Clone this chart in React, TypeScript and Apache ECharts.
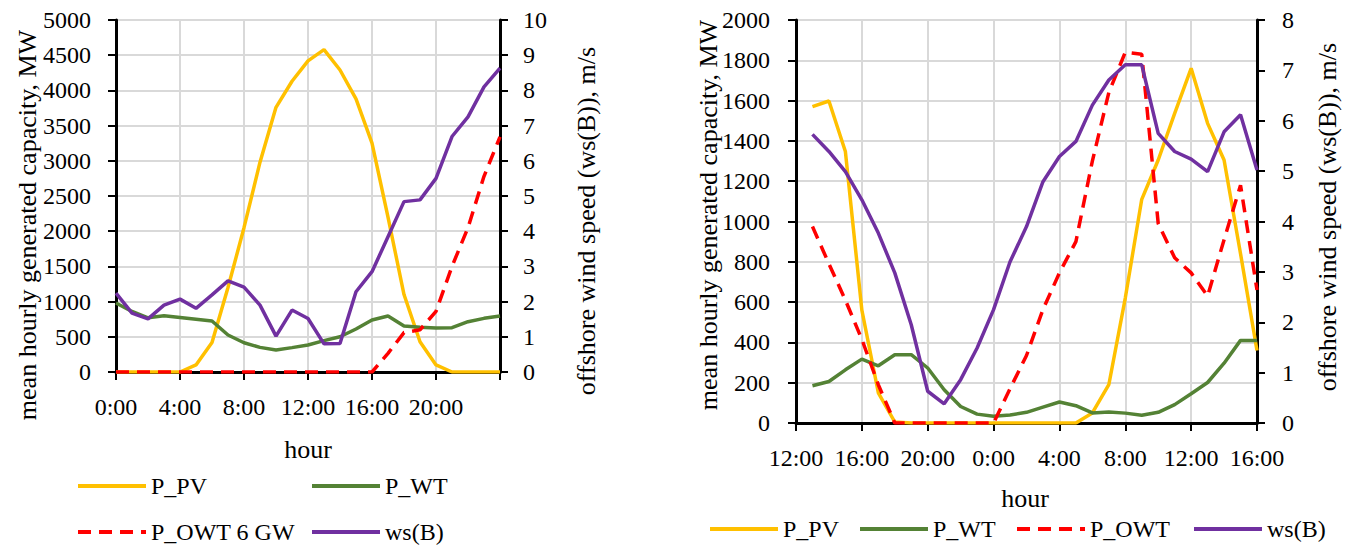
import React, { useEffect, useRef } from "react";
import * as echarts from "echarts";

// ---- Left chart (hours 0..24) ----
const HOURS_A = [0, 1, 2, 3, 4, 5, 6, 7, 8, 9, 10, 11, 12, 13, 14, 15, 16, 17, 18, 19, 20, 21, 22, 23, 24];
const PV_A = [0, 0, 0, 0, 0, 100, 420, 1200, 2050, 2980, 3760, 4130, 4420, 4580, 4290, 3880, 3250, 2200, 1100, 430, 100, 0, 0, 0, 0];
const WT_A = [980, 860, 770, 800, 775, 750, 725, 525, 415, 350, 312, 346, 383, 445, 500, 611, 739, 795, 653, 635, 625, 630, 715, 762, 795];
const OWT_A = [0, 0, 0, 0, 0, 0, 0, 0, 0, 0, 0, 0, 0, 0, 0, 0, 0, 265, 560, 600, 860, 1500, 2050, 2780, 3340];
const WS_A = [2.24, 1.67, 1.51, 1.9, 2.07, 1.81, 2.19, 2.59, 2.41, 1.9, 1.02, 1.76, 1.52, 0.8, 0.81, 2.28, 2.85, 3.84, 4.84, 4.89, 5.5, 6.69, 7.25, 8.1, 8.63];

// ---- Right chart (hours 13..40, i.e. 13:00 day 1 to 16:00 day 2) ----
const HOURS_B = [13, 14, 15, 16, 17, 18, 19, 20, 21, 22, 23, 24, 25, 26, 27, 28, 29, 30, 31, 32, 33, 34, 35, 36, 37, 38, 39, 40];
const PV_B = [1570, 1598, 1347, 560, 150, 5, 0, 0, 0, 0, 0, 0, 0, 0, 0, 0, 0, 50, 190, 620, 1110, 1305, 1537, 1760, 1487, 1305, 840, 360];
const WT_B = [185, 206, 264, 317, 284, 339, 339, 273, 165, 82, 44, 33, 40, 53, 79, 104, 86, 50, 54, 49, 38, 53, 91, 145, 201, 297, 410, 410];
const OWT_B = [975, 790, 610, 415, 190, 0, 0, 0, 0, 0, 0, 0, 170, 335, 563, 745, 900, 1300, 1640, 1840, 1830, 990, 820, 745, 630, 910, 1180, 660];
const WS_B = [5.73, 5.39, 4.99, 4.43, 3.77, 2.98, 1.95, 0.63, 0.38, 0.86, 1.49, 2.25, 3.2, 3.9, 4.79, 5.29, 5.59, 6.31, 6.81, 7.11, 7.11, 5.75, 5.39, 5.24, 4.99, 5.78, 6.12, 5.02];

const FONT = "Liberation Serif";
const C_PV = "#FFC000";
const C_WT = "#548235";
const C_OWT = "#FF0000";
const C_WS = "#7030A0";

const pairs = (xs: number[], ys: number[]) => xs.map((x, i) => [x, ys[i]]);

const axisLine = { onZero: false, lineStyle: { color: "#000", width: 3 } };
const axisTick = { show: true, length: 8, lineStyle: { color: "#000", width: 2 } };
const grid = { show: true, lineStyle: { color: "#d9d9d9", width: 2 } };

function xAxisDef(gridIndex: number, min: number, max: number, fmt: (v: number) => string) {
  return {
    gridIndex,
    type: "value",
    min,
    max,
    interval: 4,
    axisLine,
    axisTick,
    splitLine: grid,
    axisLabel: { margin: 23, fontSize: 24, fontFamily: FONT, color: "#000", formatter: fmt, showMinLabel: true, showMaxLabel: true },
  };
}

function yAxisDef(gridIndex: number, position: string, max: number, interval: number, margin: number, split: boolean) {
  return {
    gridIndex,
    type: "value",
    position,
    min: 0,
    max,
    interval,
    axisLine: { ...axisLine, show: true },
    axisTick,
    splitLine: split ? grid : { show: false },
    axisLabel: { margin, fontSize: 24, fontFamily: FONT, color: "#000", formatter: (v: number) => String(v) },
  };
}

function lineSeries(name: string, xi: number, yi: number, data: number[][], color: string, dashed = false) {
  return {
    name,
    type: "line",
    xAxisIndex: xi,
    yAxisIndex: yi,
    data,
    symbol: "none",
    showSymbol: false,
    lineStyle: { color, width: 3.5, type: dashed ? [13, 8] : "solid" },
    itemStyle: { color },
    z: 3,
  };
}

function legendDef(name: string, left: number, centerY: number) {
  return {
    data: [name],
    left,
    top: centerY - 13,
    itemWidth: 68,
    itemHeight: 14,
    selectedMode: false,
    itemStyle: { opacity: 0, borderWidth: 0 },
    lineStyle: { width: 4 },
    textStyle: { fontSize: 24, fontFamily: FONT, color: "#000" },
  };
}

function vText(text: string, x: number, y: number) {
  return {
    type: "text",
    x,
    y,
    rotation: Math.PI / 2,
    style: { text, fontSize: 26, fontFamily: FONT, fill: "#000", align: "center", verticalAlign: "middle" },
  };
}

function hText(text: string, x: number, y: number) {
  return {
    type: "text",
    x,
    y,
    style: { text, fontSize: 26, fontFamily: FONT, fill: "#000", align: "center", verticalAlign: "middle" },
  };
}

export default function App() {
  const ref = useRef<HTMLDivElement>(null);
  useEffect(() => {
    if (!ref.current) return;
    const chart = echarts.init(ref.current, null, { renderer: "svg" });
    chart.setOption({
      animation: false,
      backgroundColor: "#fff",
      textStyle: { fontFamily: FONT },
      grid: [
        { left: 116, top: 20, width: 384, height: 352 },
        { left: 796, top: 20, width: 461, height: 403 },
      ],
      xAxis: [
        xAxisDef(0, 0, 24, (v: number) => (v >= 24 ? "" : `${v}:00`)),
        xAxisDef(1, 12, 40, (v: number) => `${v % 24}:00`),
      ],
      yAxis: [
        yAxisDef(0, "left", 5000, 500, 25, true),
        yAxisDef(0, "right", 10, 1, 23, false),
        yAxisDef(1, "left", 2000, 200, 26, true),
        yAxisDef(1, "right", 8, 1, 25, false),
      ],
      legend: [
        legendDef("P_PV", 71, 482),
        legendDef("P_WT", 305, 482),
        legendDef("P_OWT 6 GW", 71, 528),
        legendDef("ws(B)", 305, 528),
        legendDef("P_PV", 703, 525),
        legendDef("P_WT", 853, 525),
        legendDef("P_OWT", 1010, 525),
        legendDef("ws(B)", 1187, 525),
      ],
      graphic: [
        vText("mean hourly generated capacity, MW", 27, 225),
        vText("offshore wind speed (ws(B)), m/s", 586, 221),
        vText("mean hourly generated capacity, MW", 708, 215),
        vText("offshore wind speed (ws(B)), m/s", 1327, 217),
        hText("hour", 308, 449),
        hText("hour", 1025, 498),
      ],
      series: [
        lineSeries("P_PV", 0, 0, pairs(HOURS_A, PV_A), C_PV),
        lineSeries("P_WT", 0, 0, pairs(HOURS_A, WT_A), C_WT),
        lineSeries("P_OWT 6 GW", 0, 0, pairs(HOURS_A, OWT_A), C_OWT, true),
        lineSeries("ws(B)", 0, 1, pairs(HOURS_A, WS_A), C_WS),
        lineSeries("P_PV", 1, 2, pairs(HOURS_B, PV_B), C_PV),
        lineSeries("P_WT", 1, 2, pairs(HOURS_B, WT_B), C_WT),
        lineSeries("P_OWT", 1, 2, pairs(HOURS_B, OWT_B), C_OWT, true),
        lineSeries("ws(B)", 1, 3, pairs(HOURS_B, WS_B), C_WS),
      ],
    });
    return () => chart.dispose();
  }, []);
  return <div ref={ref} style={{ position: "fixed", left: 0, top: 0, width: 1346, height: 545 }} />;
}
